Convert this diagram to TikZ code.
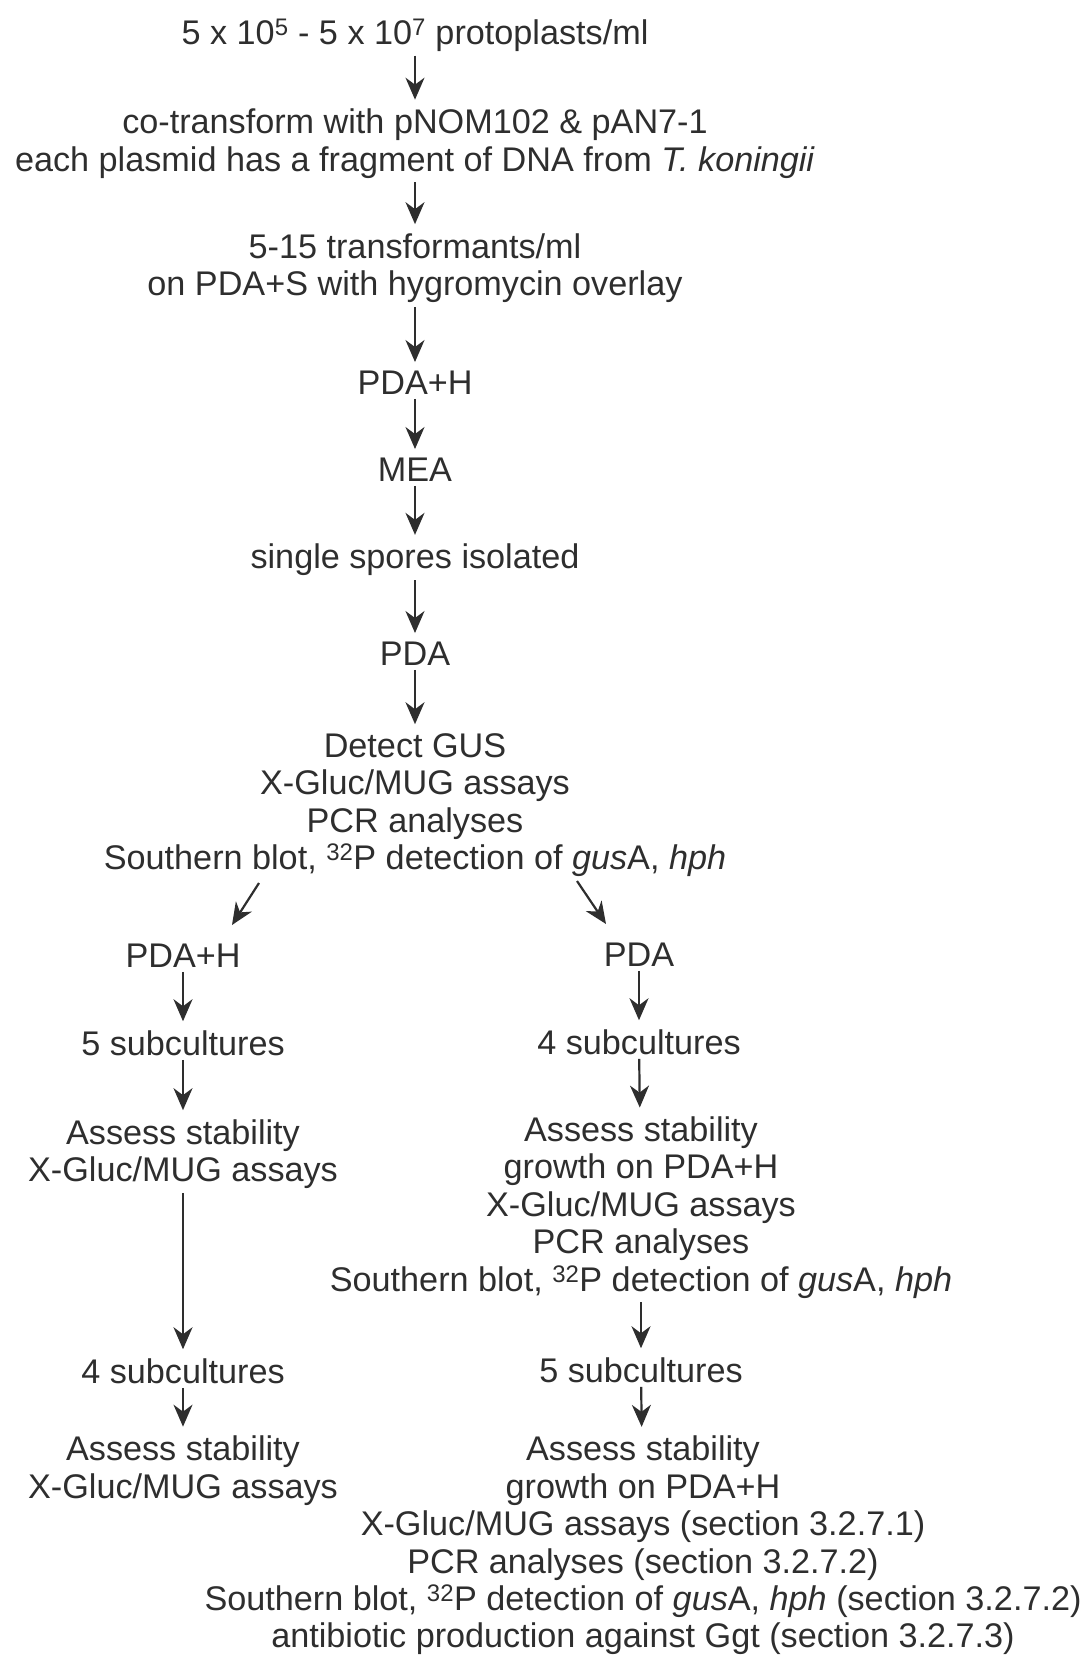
\documentclass[tikz,border=0pt]{standalone}
\usepackage{fontspec}
\setmainfont{Liberation Sans}
\usetikzlibrary{arrows.meta}
\definecolor{ink}{HTML}{2E2E2E}
\tikzset{
  lbl/.style={inner sep=0pt, align=center, text=ink, font=\fontsize{34.2}{37.4}\selectfont},
  arr/.style={draw=ink, line width=2.2pt, -{Stealth[length=22pt,width=19pt,inset=7pt]}, shorten <=4pt, shorten >=9pt},
}
\begin{document}
\begin{tikzpicture}[x=1pt,y=-1pt]
\useasboundingbox (0,0) rectangle (1091,1655);
\node[lbl] (n1) at (415,35) {5 x 10\textsuperscript{5} - 5 x 10\textsuperscript{7} protoplasts/ml};
\node[lbl] (n2) at (415,143.5) {co-transform with pNOM102 \& pAN7-1\\each plasmid has a fragment of DNA from \textit{T. koningii}};
\node[lbl] (n3) at (415,268) {5-15 transformants/ml\\on PDA+S with hygromycin overlay};
\node[lbl] (n4) at (415,383) {PDA+H};
\node[lbl] (n5) at (415,470) {MEA};
\node[lbl] (n6) at (415,560) {single spores isolated};
\node[lbl] (n7) at (415,654) {PDA};
\node[lbl] (n8) at (415,805) {Detect GUS\\X-Gluc/MUG assays\\PCR analyses\\Southern blot, \textsuperscript{32}P detection of \textit{gus}A, \textit{hph}};
\node[lbl] (L1) at (183,956) {PDA+H};
\node[lbl] (R1) at (639,955) {PDA};
\node[lbl] (L2) at (183,1043) {5 subcultures};
\node[lbl] (R2) at (639,1042) {4 subcultures};
\node[lbl] (L3) at (183,1154) {Assess stability\\X-Gluc/MUG assays};
\node[lbl] (R3) at (641,1207.5) {Assess stability\\growth on PDA+H\\X-Gluc/MUG assays\\PCR analyses\\Southern blot, \textsuperscript{32}P detection of \textit{gus}A, \textit{hph}};
\node[lbl] (L4) at (183,1371) {4 subcultures};
\node[lbl] (R4) at (641,1370) {5 subcultures};
\node[lbl] (L5) at (183,1470.5) {Assess stability\\X-Gluc/MUG assays};
\node[lbl] (R5) at (643,1545.5) {Assess stability\\growth on PDA+H\\X-Gluc/MUG assays (section 3.2.7.1)\\PCR analyses (section 3.2.7.2)\\Southern blot, \textsuperscript{32}P detection of \textit{gus}A, \textit{hph} (section 3.2.7.2)\\antibiotic production against Ggt (section 3.2.7.3)};
\coordinate (dLs) at (259,883);
\coordinate (dLe) at (232,925);
\coordinate (dRs) at (577,881);
\coordinate (dRe) at (606,924);
\draw[arr] (n1) -- (n2);
\draw[arr] (n2) -- (n3);
\draw[arr] (n3) -- (n4);
\draw[arr] (n4) -- (n5);
\draw[arr] (n5) -- (n6);
\draw[arr] (n6) -- (n7);
\draw[arr] (n7) -- (n8);
\draw[arr, shorten <=0pt, shorten >=0pt] (dLs) -- (dLe);
\draw[arr, shorten <=0pt, shorten >=0pt] (dRs) -- (dRe);
\draw[arr] (L1) -- (L2);
\draw[arr] (R1) -- (R2);
\draw[arr] (L2) -- (L3);
\draw[arr] (R2) -- (R3);
\draw[arr] (L3) -- (L4);
\draw[arr] (R3) -- (R4);
\draw[arr] (L4) -- (L5);
\draw[arr] (R4) -- (R5);
\end{tikzpicture}
\end{document}
